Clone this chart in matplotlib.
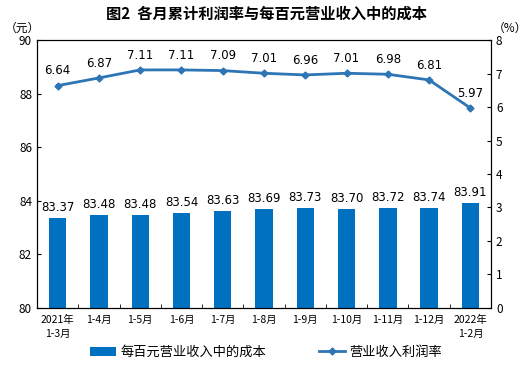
import matplotlib
matplotlib.use("Agg")
import matplotlib.pyplot as plt
import numpy as np

plt.rcParams['font.family'] = ['Noto Sans CJK SC', 'DejaVu Sans']

months = ["2021年\n1-3月", "1-4月", "1-5月", "1-6月", "1-7月", "1-8月",
          "1-9月", "1-10月", "1-11月", "1-12月", "2022年\n1-2月"]
cost = [83.37, 83.48, 83.48, 83.54, 83.63, 83.69, 83.73, 83.70, 83.72, 83.74, 83.91]
margin = [6.64, 6.87, 7.11, 7.11, 7.09, 7.01, 6.96, 7.01, 6.98, 6.81, 5.97]

x = np.arange(len(months))

fig = plt.figure(figsize=(5.32, 3.75), dpi=100)
ax = fig.add_axes([0.0695, 0.179, 0.8535, 0.714])
ax2 = ax.twinx()

bar_color = "#0070C0"
line_color = "#2E75B6"

bars = ax.bar(x, cost, width=0.42, color=bar_color, label="每百元营业收入中的成本", zorder=2)
for xi, v in zip(x, cost):
    ax.text(xi, v + 0.15, "%.2f" % v, ha="center", va="bottom", fontsize=8.5, family="DejaVu Sans")

ax.set_ylim(80, 90)
ax.set_yticks(range(80, 91, 2))
ax.set_xlim(-0.5, len(months) - 0.5)
ax.set_xticks(x)
ax.set_xticklabels(months, fontsize=7.5, linespacing=1.5)
ax.set_xticks(np.arange(-0.5, len(months), 1), minor=True)
ax.tick_params(axis="x", which="major", length=0, pad=5)
ax.tick_params(axis="x", which="minor", direction="in", length=3)
ax.tick_params(axis="y", direction="in", length=3, labelsize=8.5)

line, = ax2.plot(x, margin, color=line_color, lw=2, marker="D", markersize=3.5,
                 label="营业收入利润率", zorder=3)
for xi, v in zip(x, margin):
    ax2.text(xi, v + 0.25, "%.2f" % v, ha="center", va="bottom", fontsize=8.5, family="DejaVu Sans")
ax2.set_ylim(0, 8)
ax2.set_yticks(range(0, 9))
ax2.tick_params(axis="y", direction="in", length=3, labelsize=8.5)

fig.text(0.5, 0.963, "图2  各月累计利润率与每百元营业收入中的成本", ha="center", va="center",
         fontsize=11, fontweight="bold")
fig.text(0.042, 0.925, "（元）", ha="center", va="center", fontsize=8.5)
fig.text(0.958, 0.925, "（%）", ha="center", va="center", fontsize=8.5)

fig.legend(handles=[bars, line], loc="center", bbox_to_anchor=(0.5, 0.06), ncol=2,
           frameon=False, fontsize=9.5, columnspacing=4, handlelength=2, handletextpad=0.3)

fig.savefig("out.png", dpi=100)
